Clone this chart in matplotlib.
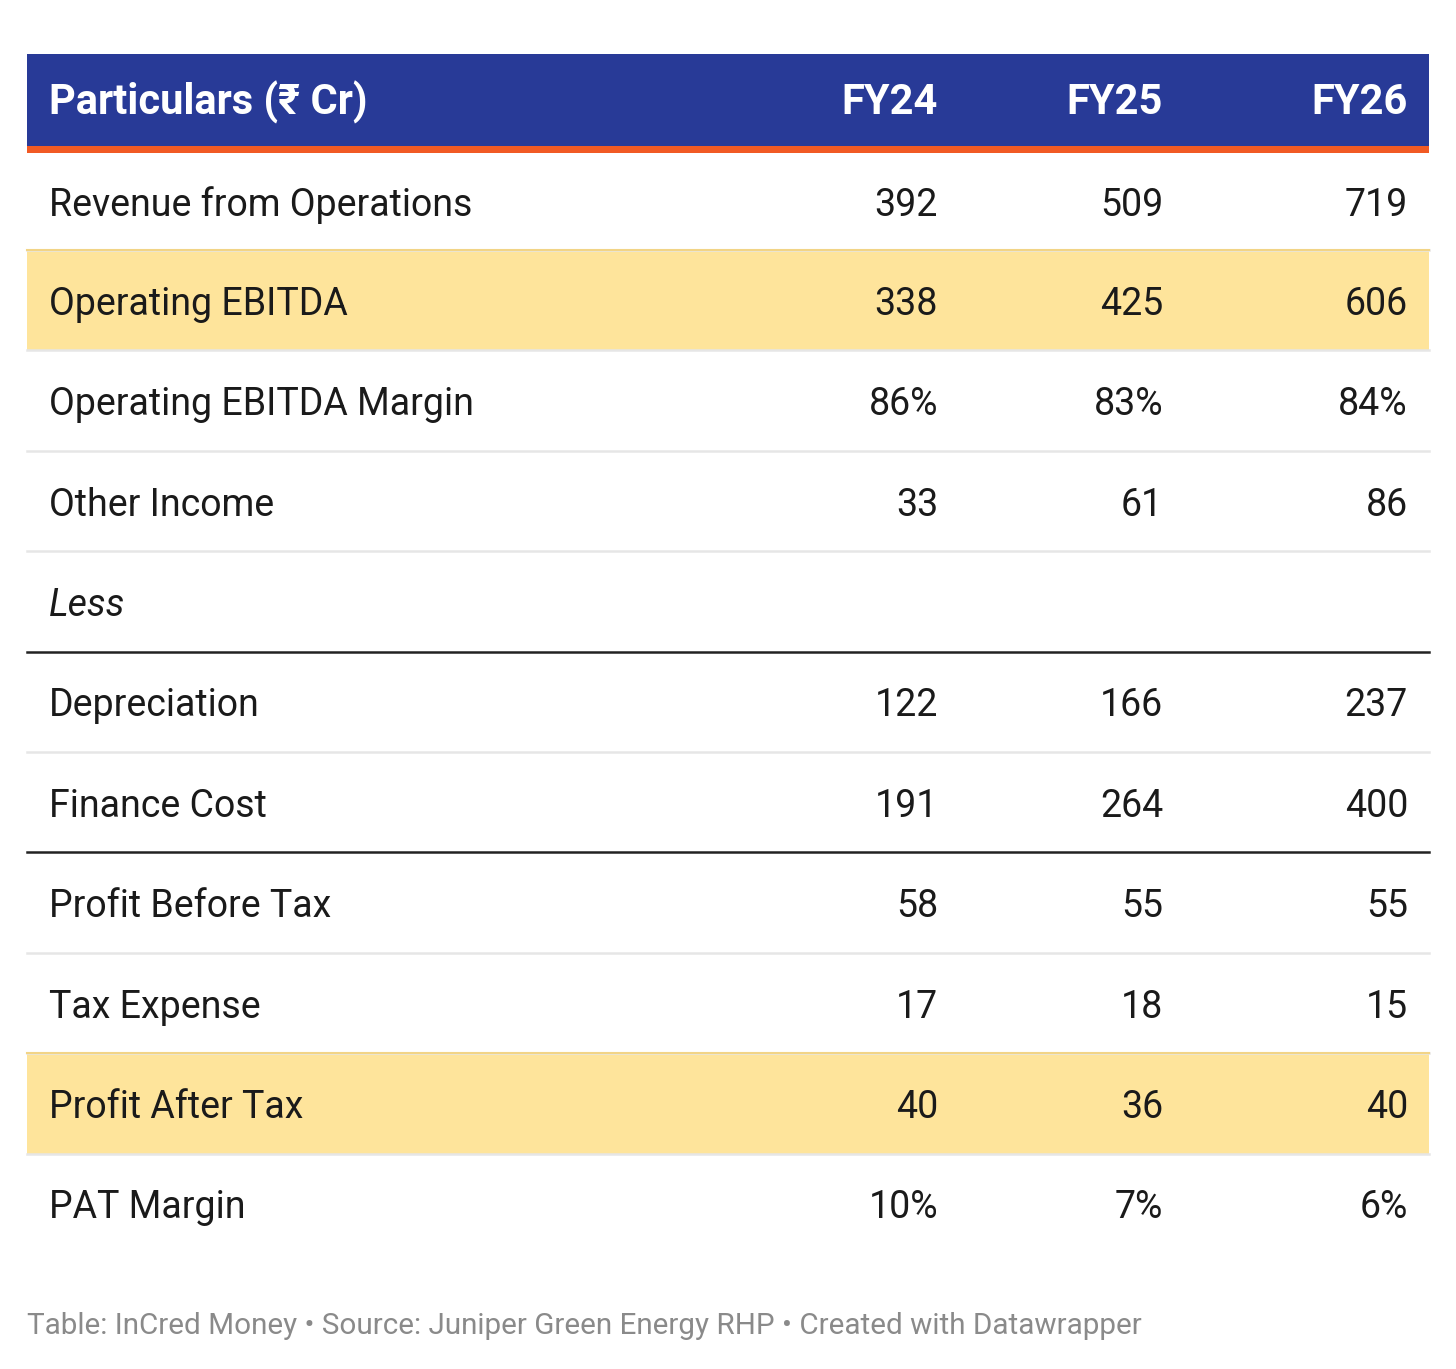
import matplotlib
matplotlib.use("Agg")
import matplotlib.pyplot as plt
from matplotlib.patches import Rectangle

plt.rcParams['font.family'] = ['Roboto', 'DejaVu Sans']

# table content
header_label = "Particulars (₹ Cr)"
years = ["FY24", "FY25", "FY26"]
row_labels = ["Revenue from Operations", "Operating EBITDA", "Operating EBITDA Margin",
              "Other Income", "Less", "Depreciation", "Finance Cost",
              "Profit Before Tax", "Tax Expense", "Profit After Tax", "PAT Margin"]
fy24 = ["392", "338", "86%", "33", "", "122", "191", "58", "17", "40", "10%"]
fy25 = ["509", "425", "83%", "61", "", "166", "264", "55", "18", "36", "7%"]
fy26 = ["719", "606", "84%", "86", "", "237", "400", "55", "15", "40", "6%"]
highlight_rows = ["Operating EBITDA", "Profit After Tax"]
italic_rows = ["Less"]
black_line_after = ["Less", "Finance Cost"]
footer = "Table: InCred Money • Source: Juniper Green Energy RHP • Created with Datawrapper"

W, H = 1456, 1369
fig = plt.figure(figsize=(W / 100, H / 100), dpi=100)
ax = fig.add_axes([0, 0, 1, 1])
ax.set_xlim(0, W)
ax.set_ylim(H, 0)
ax.axis('off')

left, right = 27, 1429
text_x = 49
col_right = [938, 1163, 1408]
head_top, head_bot = 54, 146
first_top, second_top, row_h = 153, 250, 100.4

# header
ax.add_patch(Rectangle((left, head_top), right - left, head_bot - head_top, color='#283a97', lw=0))
ax.add_patch(Rectangle((left, head_bot), right - left, 7, color='#f15a24', lw=0))
hy = (head_top + head_bot) / 2 + 2
ax.text(text_x, hy, header_label, color='white', fontsize=30, fontweight='bold', va='center', ha='left')
for x, y in zip(col_right, years):
    ax.text(x, hy, y, color='white', fontsize=30, fontweight='bold', va='center', ha='right')

cols = [fy24, fy25, fy26]
for i, lab in enumerate(row_labels):
    top = first_top if i == 0 else second_top + (i - 1) * row_h
    bot = second_top + i * row_h
    cy = (top + bot) / 2 + 4
    if lab in highlight_rows:
        ax.add_patch(Rectangle((left, top), right - left, bot - top, color='#fee49b', lw=0))
        ax.plot([left, right], [top, top], color='#f2d486', lw=1.5)
    style = 'italic' if lab in italic_rows else 'normal'
    ax.text(text_x, cy, lab, color='#1a1a1a', fontsize=27, fontstyle=style, va='center', ha='left')
    for x, c in zip(col_right, cols):
        ax.text(x, cy, c[i], color='#1a1a1a', fontsize=27, va='center', ha='right')
    if i < len(row_labels) - 1:
        if lab in black_line_after:
            ax.plot([left, right], [bot, bot], color='#222222', lw=1.8)
        else:
            ax.plot([left, right], [bot, bot], color='#e6e6e6', lw=1.8)

ax.text(left, 1326, footer, color='#8a8a8a', fontsize=21.3, va='center', ha='left')

fig.savefig('out.png', dpi=100)
